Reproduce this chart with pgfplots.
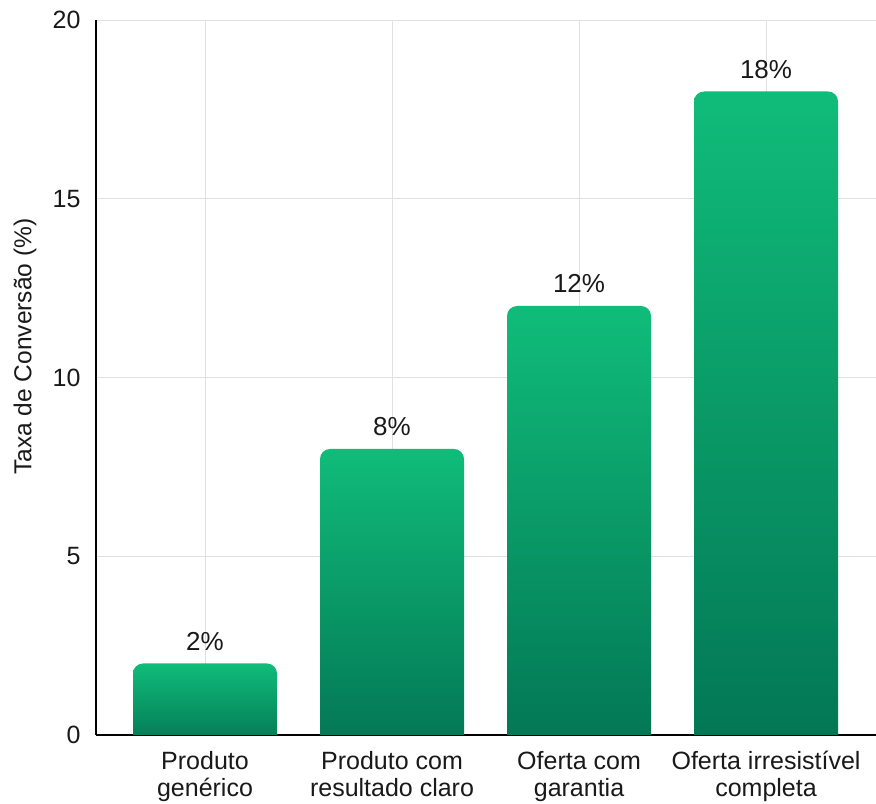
\documentclass[border=0pt]{standalone}
\usepackage{pgfplots}
\pgfplotsset{compat=1.18}
\usepackage{fontspec}
\setmainfont{Liberation Sans}
\definecolor{bartop}{RGB}{16,188,122}
\definecolor{barbot}{RGB}{3,118,84}
\definecolor{gridc}{RGB}{224,224,224}
\definecolor{txt}{RGB}{25,25,25}
\begin{document}
\begin{tikzpicture}
\path[use as bounding box] (-96bp,-69bp) rectangle (780bp,735bp);
\begin{axis}[
  scale only axis,
  width=780bp, height=715bp,
  xmin=-0.583, xmax=3.588,
  ymin=0, ymax=20,
  ytick={0,5,10,15,20},
  xtick={0,1,2,3},
  xticklabels={{Produto\\genérico},{Produto com\\resultado claro},{Oferta com\\garantia},{Oferta irresistível\\completa}},
  /pgf/number format/assume math mode=true,
  axis lines*=left,
  axis line style={-, black, line width=1.1pt},
  major tick length=0pt,
  grid=major,
  grid style={gridc, line width=0.8pt},
  tick label style={font=\fontsize{25bp}{26.5bp}\selectfont, text=txt},
  yticklabel style={anchor=east, xshift=-12bp},
  xticklabel style={align=center, anchor=north, yshift=-13bp},
  ylabel={Taxa de Conversão (\%)},
  ylabel style={font=\fontsize{24.5bp}{27bp}\selectfont, text=txt, at={(axis description cs:-0.091,0.543)}, anchor=center, rotate=0},
  rounded corners=10bp,
]
\addplot[draw=none, top color=bartop, bottom color=barbot] coordinates {(-0.385,-0.3) (-0.385,2) (0.385,2) (0.385,-0.3)} -- cycle;
\addplot[draw=none, top color=bartop, bottom color=barbot] coordinates {(0.615,-0.3) (0.615,8) (1.385,8) (1.385,-0.3)} -- cycle;
\addplot[draw=none, top color=bartop, bottom color=barbot] coordinates {(1.615,-0.3) (1.615,12) (2.385,12) (2.385,-0.3)} -- cycle;
\addplot[draw=none, top color=bartop, bottom color=barbot] coordinates {(2.615,-0.3) (2.615,18) (3.385,18) (3.385,-0.3)} -- cycle;
\addplot[draw=none, mark=none, sharp corners,
  point meta=y,
  nodes near coords={\pgfmathprintnumber{\pgfplotspointmeta}\%},
  every node near coord/.append style={anchor=base, yshift=13bp, font=\fontsize{26bp}{30bp}\selectfont, text=txt}]
  coordinates {(0,2) (1,8) (2,12) (3,18)};
\end{axis}
\end{tikzpicture}
\end{document}
